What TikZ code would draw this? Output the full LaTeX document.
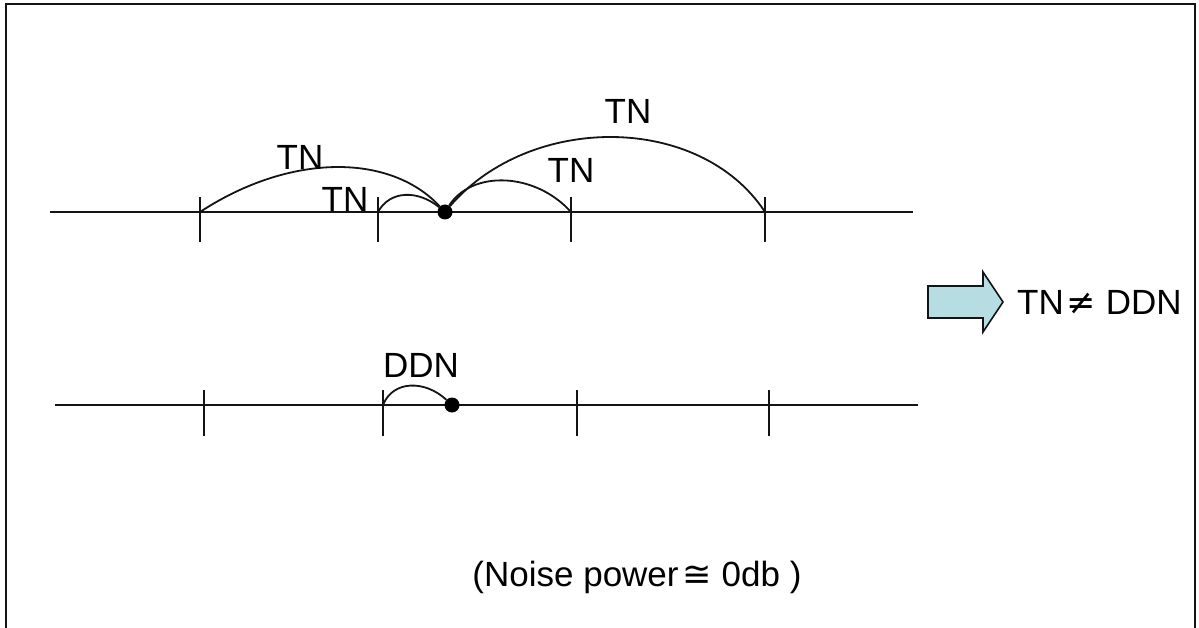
\documentclass[tikz,border=0pt]{standalone}
\usepackage{fontspec}
\setmainfont{Liberation Sans}
\newfontfamily\symfont{DejaVu Sans}
\usetikzlibrary{positioning}
\definecolor{LC}{RGB}{182,222,226}
\definecolor{DG}{RGB}{20,20,20}

\begin{document}
\begin{tikzpicture}[x=1pt, y=-1pt,
  axis/.style={line width=2pt, draw=DG},
  tickmark/.style={line width=2pt, draw=DG},
  arc/.style={line width=1.8pt, draw=DG},
  dot/.style={circle, fill=black, inner sep=0pt, minimum size=15pt},
  lbl/.style={anchor=base, inner sep=0pt, font=\fontsize{35}{42}\selectfont},
  frm/.style={line width=2.2pt, draw=DG},
  fatarrow/.style={draw=DG, line width=1.6pt, fill=LC, line join=miter}
]
\useasboundingbox (0,0) rectangle (1199,628);

% frame, open at the bottom
\draw[frm] (6,640) -- (6,4) -- (1195,4) -- (1195,640);

% upper line
\coordinate (ta) at (50,212);
\coordinate (tz) at (913,212);
\coordinate (t1) at (200,212);
\coordinate (t2) at (378,212);
\coordinate (t3) at (571,212);
\coordinate (t4) at (765,212);
\draw[axis] (ta) -- (tz);
\draw[tickmark] (t1) ++(0,-15) -- ++(0,45);
\draw[tickmark] (t2) ++(0,-15) -- ++(0,45);
\draw[tickmark] (t3) ++(0,-15) -- ++(0,45);
\draw[tickmark] (t4) ++(0,-15) -- ++(0,45);
\node[dot] (d1) at (445,212) {};

\draw[arc] (t1) .. controls (290,153) and (390,153) .. (d1);
\draw[arc] (t2) .. controls (390,190) and (418,190) .. (d1);
\draw[arc] (d1) .. controls (472,170) and (535,172) .. (t3);
\draw[arc] (d1) .. controls (530,113) and (700,113) .. (t4);

\node[lbl] (tn1) at (300,170) {TN};
\node[lbl] (tn2) at (345,212) {TN};
\node[lbl] (tn3) at (571,183) {TN};
\node[lbl] (tn4) at (628,124) {TN};

% lower line
\coordinate (ba) at (55,405);
\coordinate (bz) at (918,405);
\coordinate (b1) at (204,405);
\coordinate (b2) at (383,405);
\coordinate (b3) at (577,405);
\coordinate (b4) at (769,405);
\draw[axis] (ba) -- (bz);
\draw[tickmark] (b1) ++(0,-15) -- ++(0,46);
\draw[tickmark] (b2) ++(0,-15) -- ++(0,46);
\draw[tickmark] (b3) ++(0,-15) -- ++(0,46);
\draw[tickmark] (b4) ++(0,-15) -- ++(0,46);
\node[dot] (d2) at (452,405) {};

\draw[arc] (b2) .. controls (393,380) and (425,380) .. (d2);
\node[lbl] (ddn) at (421,377) {DDN};

% result
\draw[fatarrow] (928,286) -- (983,286) -- (983,272) -- (1003,302)
  -- (983,332) -- (983,318) -- (928,318) -- cycle;
\coordinate (tip) at (1003,302);
\node[lbl, anchor=west, right=14pt of tip] (res)
  {TN\hspace{3pt}{\symfont ≠} DDN};

\node[lbl] (noise) at (637,586) {(Noise power\hspace{4pt}{\symfont ≅} 0db )};
\end{tikzpicture}
\end{document}
